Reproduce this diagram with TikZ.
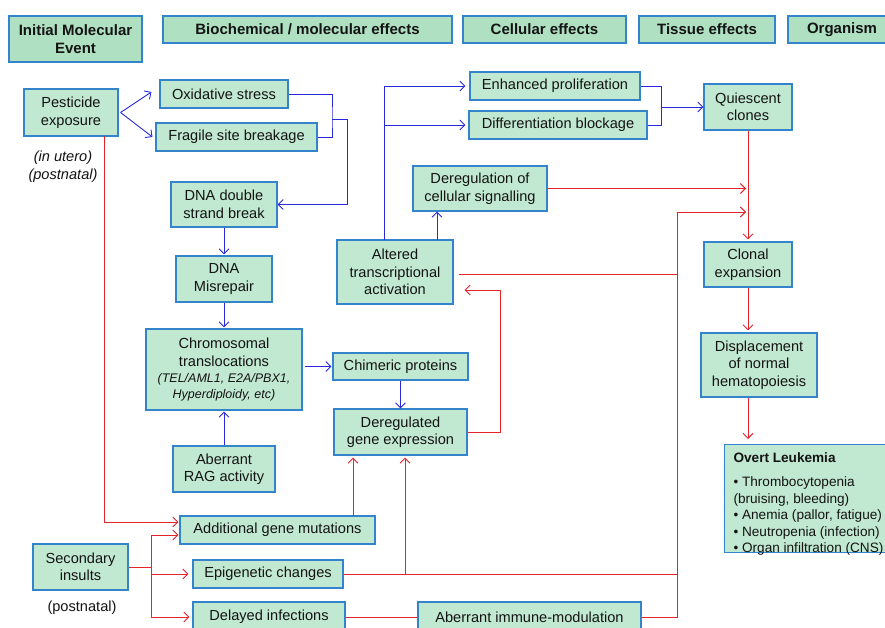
\documentclass[tikz,border=0pt]{standalone}
\usepackage{fontspec}
\setmainfont{Liberation Sans}
\usetikzlibrary{arrows.meta,calc}
\definecolor{boxfill}{RGB}{193,232,208}
\definecolor{hdrfill}{RGB}{175,224,193}
\definecolor{boxline}{RGB}{52,132,204}
\definecolor{bluel}{RGB}{40,40,225}
\definecolor{redl}{RGB}{228,36,40}
\definecolor{txt}{RGB}{20,20,20}
\newcommand\bx[7][]{%
  \pgfmathsetmacro\bxcx{(#3+#5)/2}%
  \pgfmathsetmacro\bxcy{(#4+#6)/2}%
  \pgfmathsetmacro\bxw{#5-#3}%
  \pgfmathsetmacro\bxh{#6-#4}%
  \node[box,#1,minimum width=\bxw pt,minimum height=\bxh pt] (#2) at (\bxcx,\bxcy) {#7};}
\begin{document}
\begin{tikzpicture}[x=1pt,y=-1pt,
  box/.style={draw=boxline, fill=boxfill, line width=1.1pt, inner sep=0pt, align=center,
    text=txt, font={\fontsize{14.6}{17.5}\selectfont}},
  hdr/.style={fill=hdrfill, font={\fontsize{15}{18}\selectfont\bfseries}},
  plain/.style={inner sep=0pt, align=center, text=txt, font={\fontsize{14.6}{18}\selectfont}},
  bline/.style={draw=bluel, line width=0.9pt},
  rline/.style={draw=redl, line width=0.9pt},
  barrow/.style={bline, -{Straight Barb[length=5pt,width=10pt]}},
  rarrow/.style={rline, -{Straight Barb[length=5pt,width=10pt]}}]
\useasboundingbox (0,0) rectangle (885,628);
\clip (0,0) rectangle (885,628);
\fill[white] (0,0) rectangle (885,628);

% headers
\bx[hdr]{hinit}{9}{16}{142}{62}{Initial Molecular\\Event}
\bx[hdr]{hbio}{163}{16}{452}{43}{Biochemical / molecular effects}
\bx[hdr]{hcell}{463}{16}{626}{43}{Cellular effects}
\bx[hdr]{htis}{639}{16}{775}{43}{Tissue effects}
\bx[hdr]{horg}{788}{16}{896}{43}{Organism}

% nodes
\bx{pest}{24}{89}{118}{136}{Pesticide\\exposure}
\node[plain, font={\fontsize{14.6}{18}\selectfont\itshape}] (utero) at (63,167) {(in utero)\\(postnatal)};
\bx{oxid}{160}{80}{288}{108}{Oxidative stress}
\bx{frag}{156}{123}{317}{151}{Fragile site breakage}
\bx{dsb}{171}{182}{277}{227}{DNA double\\strand break}
\bx{misr}{176}{256}{272}{302}{DNA\\Misrepair}
\bx{chrom}{146}{329}{302}{410}{Chromosomal\\translocations\\[-1pt]{\fontsize{12.5}{16}\selectfont\itshape (TEL/AML1, E2A/PBX1,}\\[-2pt]{\fontsize{12.5}{16}\selectfont\itshape Hyperdiploidy, etc)}}
\bx{rag}{173}{446}{275}{492}{Aberrant\\RAG activity}
\bx{chim}{333}{353}{468}{380}{Chimeric proteins}
\bx{dge}{334}{409}{467}{455}{Deregulated\\gene expression}
\bx{alt}{337}{240}{453}{304}{Altered\\transcriptional\\activation}
\bx{sig}{413}{166}{547}{211}{Deregulation of\\cellular signalling}
\bx{enh}{470}{72}{640}{100}{Enhanced proliferation}
\bx{diff}{469}{111}{647}{139}{Differentiation blockage}
\bx{qui}{704}{84}{792}{130}{Quiescent\\clones}
\bx{clon}{704}{242}{792}{287}{Clonal\\expansion}
\bx{disp}{701}{333}{817}{397}{Displacement\\of normal\\hematopoiesis}
\node[box, anchor=north west, inner xsep=9pt, inner ysep=0pt, align=left] (overt) at (724,444)
  {\parbox[c][108pt][t]{164pt}{\raggedright\fontsize{13.6}{16.5}\selectfont\vspace*{8pt}%
   \textbf{Overt Leukemia}\\[8pt]• Thrombocytopenia\\(bruising, bleeding)\\• Anemia (pallor, fatigue)\\• Neutropenia (infection)\\• Organ infiltration (CNS)}};
\bx{addm}{180}{516}{375}{544}{Additional gene mutations}
\bx{sec}{33}{544}{128}{590}{Secondary\\insults}
\node[plain] (post2) at (82,608) {(postnatal)};
\bx{epi}{193}{560}{343}{588}{Epigenetic changes}
\bx{delay}{193}{602}{345}{632}{Delayed infections}
\bx{aim}{418}{602}{641}{632}{Aberrant immune-modulation}

% blue connectors
\draw[barrow] ([xshift=2pt]pest.east) -- ($(oxid.west)+(-8,-2)$);
\draw[barrow] ([xshift=2pt]pest.east) -- ($(frag.west)+(-3,0)$);
\coordinate (j1) at (332,119);
\coordinate (j1b) at (347,119);
\draw[bline] (oxid.east) -| (j1) |- (frag.east);
\draw[barrow] (j1) -- (j1b) |- (dsb.east);
\draw[barrow] (dsb.south) -- ($(misr.north)+(0,-1)$);
\draw[barrow] (misr.south) -- ($(chrom.north)+(0,-1)$);
\draw[barrow] (rag.north) -- ($(chrom.south)+(0,1)$);
\draw[barrow] ($(chrom.east |- chim.west)+(2,0)$) -- ($(chim.west)+(-1,0)$);
\draw[barrow] (chim.south) -- (dge.north);
\coordinate (a1) at (437,240);
\draw[barrow] (a1) -- (a1 |- sig.south);
\coordinate (a2) at (384,240);
\draw[barrow] (a2) |- ($(enh.west)+(-4,0)$);
\draw[barrow] (a2 |- diff.west) -- ($(diff.west)+(-3,0)$);
\coordinate (j2) at (661,107);
\draw[bline] (enh.east) -| (j2) |- (diff.east);
\draw[barrow] (j2) -- (qui.west);

% red connectors
\draw[rarrow] (qui.south) -- ($(clon.north)+(0,-2)$);
\draw[rarrow, shorten >=2pt] (sig.east) -- (sig.east -| qui.south);
\coordinate (t1) at (677,212);
\coordinate (t2) at (677,274);
\draw[rline] (aim.east) -| (t1);
\draw[rarrow, shorten >=2pt] (t1) -- (t1 -| qui.south);
\draw[rline] (t2) -- ($(alt.east)+(5,2)$);
\draw[rline] (epi.east) -- (epi.east -| t1);
\coordinate (e1) at (405,574);
\draw[rarrow] (e1) -- ($(e1 |- dge.south)+(0,2)$);
\coordinate (m1) at (353,516);
\draw[rarrow] (m1) -- ($(m1 |- dge.south)+(0,2)$);
\coordinate (k1) at (500,290);
\draw[rarrow] (dge.east) -| (k1) -- ($(alt.east)+(11,18)$);
\coordinate (p1) at (104,136);
\draw[rarrow] (p1) |- ($(addm.west)+(-1,-8)$);
\coordinate (s1) at (151,567);
\draw[rline] (sec.east) -- (s1);
\draw[rarrow] (s1) |- ($(addm.west)+(-1,5)$);
\draw[rarrow] (s1) |- ($(epi.west)+(-4,0)$);
\draw[rarrow] (s1) |- ($(delay.west)+(-3,0)$);
\draw[rline] (delay.east) -- (aim.west);
\draw[rarrow, shorten >=2pt] (clon.south) -- (clon.south |- disp.north);
\draw[rarrow, shorten >=5pt] (clon.south |- disp.south) -- (clon.south |- overt.north);
\end{tikzpicture}
\end{document}
